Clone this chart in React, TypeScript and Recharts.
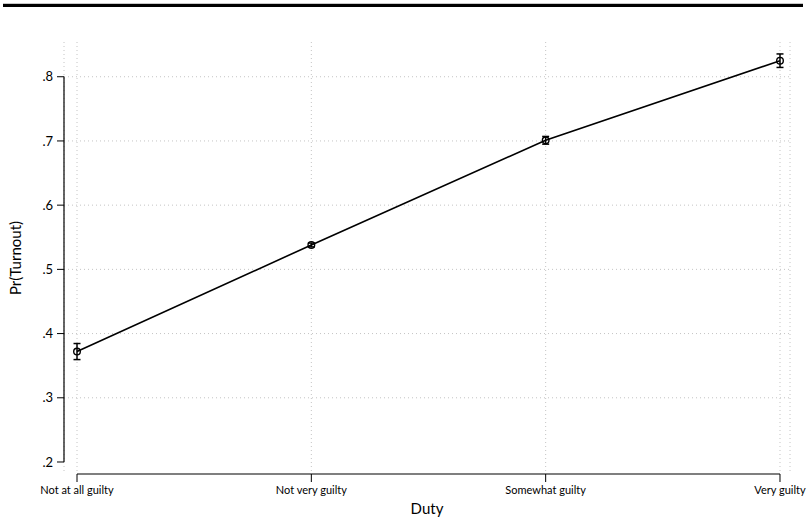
import React from 'react';
import {
  CartesianGrid,
  ErrorBar,
  Line,
  LineChart,
  ReferenceLine,
  XAxis,
  YAxis,
} from 'recharts';

const categories = ['Not at all guilty', 'Not very guilty', 'Somewhat guilty', 'Very guilty'];
const turnout = [0.372, 0.538, 0.701, 0.825];
const ciHalf = [0.0125, 0.003, 0.006, 0.0105];
const yTicks = [0.2, 0.3, 0.4, 0.5, 0.6, 0.7, 0.8];
const gridY = [0.3, 0.4, 0.5, 0.6, 0.7, 0.8];
const xTicks = [1, 2, 3, 4];

const xDomain: [number, number] = [0.9445, 4.0427];
const yDomain: [number, number] = [0.1813, 0.8541];

const FONT = 'Lato, "Open Sans", sans-serif';

const data = categories.map((name, i) => ({
  x: i + 1,
  name,
  y: turnout[i],
  err: ciHalf[i],
}));

const fmtY = (v: number) => v.toFixed(1).replace(/^0/, '');

export default function App() {
  return (
    <div
      style={{
        position: 'absolute',
        left: 0,
        top: 0,
        width: 809,
        height: 524,
        background: '#fff',
        fontFamily: FONT,
      }}
    >
      <div style={{ position: 'absolute', left: 3, top: 3, width: 800, height: 1, background: '#c8c8c8' }} />
      <div style={{ position: 'absolute', left: 3, top: 4, width: 800, height: 3, background: '#000' }} />
      <LineChart
        width={809}
        height={524}
        data={data}
        margin={{ top: 42, right: 19, bottom: 0, left: 0 }}
      >
        <CartesianGrid stroke="#c4c4c4" strokeDasharray="1 3" horizontal={false} />
        {gridY.map((v) => (
          <ReferenceLine key={v} y={v} stroke="#c4c4c4" strokeDasharray="1 3" />
        ))}
        <XAxis
          dataKey="x"
          type="number"
          domain={xDomain}
          allowDataOverflow
          ticks={xTicks}
          tickFormatter={(v: number) => categories[v - 1]}
          axisLine={false}
          tickLine={{ stroke: '#000', strokeWidth: 1 }}
          tickSize={8}
          tickMargin={4}
          height={50}
          tick={{ fill: '#000', fontSize: 11, fontFamily: FONT }}
          interval={0}
          label={{
            content: ({ viewBox }: any) => (
              <text
                x={viewBox.x + viewBox.width / 2}
                y={514}
                textAnchor="middle"
                fontSize={15}
                fontFamily={FONT}
                fill="#000"
              >
                Duty
              </text>
            ),
          }}
        />
        <YAxis
          type="number"
          domain={yDomain}
          allowDataOverflow
          ticks={yTicks}
          tickFormatter={fmtY}
          axisLine={false}
          tickLine={{ stroke: '#000', strokeWidth: 1 }}
          tickSize={7}
          tickMargin={4}
          width={64}
          tick={{ fill: '#000', fontSize: 13, fontFamily: FONT }}
          label={{
            content: ({ viewBox }: any) => {
              const cy = viewBox.y + viewBox.height / 2;
              return (
                <text
                  x={21}
                  y={cy}
                  transform={`rotate(-90, 21, ${cy})`}
                  textAnchor="middle"
                  fontSize={15}
                  fontFamily={FONT}
                  fill="#000"
                >
                  Pr(Turnout)
                </text>
              );
            },
          }}
        />
        <ReferenceLine
          segment={[
            { x: xDomain[0], y: 0.2 },
            { x: xDomain[0], y: 0.8 },
          ]}
          stroke="#000"
          strokeWidth={1.2}
          ifOverflow="visible"
        />
        <ReferenceLine
          segment={[
            { x: 1, y: yDomain[0] },
            { x: 4, y: yDomain[0] },
          ]}
          stroke="#000"
          strokeWidth={1.2}
          ifOverflow="visible"
        />
        <Line
          dataKey="y"
          type="linear"
          stroke="#000"
          strokeWidth={1.6}
          dot={{ r: 3.3, stroke: '#000', strokeWidth: 1.4, fill: 'none' }}
          activeDot={false}
          isAnimationActive={false}
        >
          <ErrorBar dataKey="err" direction="y" width={3.5} stroke="#000" strokeWidth={1.5} />
        </Line>
      </LineChart>
    </div>
  );
}
